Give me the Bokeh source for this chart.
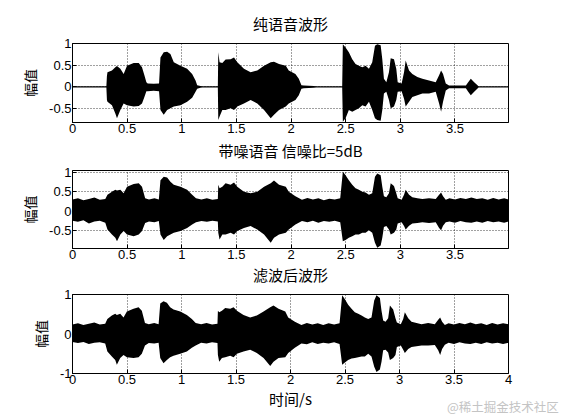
from bokeh.plotting import figure
from bokeh.layouts import column
from bokeh.models import Range1d, FixedTicker, NumeralTickFormatter, Div
from bokeh.embed import file_html
from bokeh.resources import INLINE

CJK = "Noto Sans CJK SC"
NUM = "Liberation Sans"

# ---- panel 1: clean speech envelope (time s, upper, lower) ----
t1 = [0.00, 0.31, 0.315, 0.32, 0.361, 0.392, 0.407, 0.438, 0.468, 0.499, 0.56, 0.606, 0.636, 0.658,
      0.676, 0.688, 0.743, 0.792, 0.805, 0.835, 0.866, 0.896, 0.927, 0.988, 1.049, 1.095, 1.126,
      1.141, 1.171, 1.187, 1.33, 1.334, 1.346, 1.371, 1.401, 1.447, 1.478, 1.508, 1.569, 1.63,
      1.691, 1.753, 1.814, 1.844, 1.89, 1.952, 1.979, 2.04, 2.071, 2.095, 2.117, 2.208, 2.23,
      2.468, 2.474, 2.499, 2.529, 2.56, 2.59, 2.621, 2.652, 2.682, 2.713, 2.743, 2.768, 2.789,
      2.82, 2.835, 2.85, 2.872, 2.896, 2.912, 2.942, 2.963, 2.976, 3.012, 3.034, 3.049, 3.08,
      3.11, 3.156, 3.202, 3.263, 3.324, 3.355, 3.373, 3.391, 3.416, 3.446, 3.60, 3.621, 3.645,
      3.676, 3.716, 3.99]
up1 = [0.015, 0.015, 0.25, 0.34, 0.38, 0.45, 0.48, 0.42, 0.30, 0.49, 0.55, 0.55, 0.45, 0.27,
       0.11, 0.08, 0.07, 0.08, 0.68, 0.80, 0.81, 0.76, 0.57, 0.49, 0.42, 0.30, 0.15,
       0.04, 0.02, 0.015, 0.015, 0.80, 0.57, 0.55, 0.63, 0.64, 0.68, 0.57, 0.42, 0.34,
       0.38, 0.49, 0.57, 0.58, 0.53, 0.49, 0.38, 0.30, 0.19, 0.04, 0.03, 0.02, 0.015,
       0.015, 0.98, 0.91, 0.80, 0.64, 0.53, 0.49, 0.45, 0.49, 0.42, 0.57, 0.95, 0.98,
       0.96, 0.64, 0.19, 0.11, 0.34, 0.66, 0.64, 0.42, 0.11, 0.08, 0.34, 0.61, 0.38,
       0.30, 0.23, 0.19, 0.15, 0.11, 0.27, 0.38, 0.30, 0.08, 0.03, 0.03, 0.11, 0.19,
       0.11, 0.015, 0.015]
lo1 = [-0.015, -0.015, -0.30, -0.34, -0.42, -0.61, -0.72, -0.53, -0.38, -0.42, -0.45, -0.44, -0.38, -0.23,
       -0.10, -0.10, -0.09, -0.10, -0.53, -0.64, -0.53, -0.49, -0.45, -0.42, -0.34, -0.25, -0.11,
       -0.04, -0.02, -0.015, -0.015, -0.76, -0.68, -0.53, -0.53, -0.49, -0.53, -0.45, -0.38, -0.30,
       -0.38, -0.53, -0.72, -0.64, -0.53, -0.45, -0.38, -0.30, -0.19, -0.04, -0.03, -0.02, -0.015,
       -0.015, -0.80, -0.72, -0.53, -0.57, -0.53, -0.49, -0.42, -0.45, -0.34, -0.53, -0.72, -0.76,
       -0.78, -0.53, -0.15, -0.11, -0.30, -0.49, -0.45, -0.30, -0.11, -0.10, -0.27, -0.45, -0.34,
       -0.23, -0.19, -0.15, -0.15, -0.11, -0.38, -0.57, -0.34, -0.08, -0.03, -0.03, -0.11, -0.19,
       -0.11, -0.015, -0.015]

# ---- panel 2: noisy speech (SNR 5 dB) envelope ----
t2 = [0.0, 0.05, 0.10, 0.15, 0.20, 0.25, 0.30, 0.32, 0.361, 0.392, 0.407, 0.438, 0.468, 0.499,
      0.56, 0.606, 0.636, 0.665, 0.70, 0.75, 0.79, 0.805, 0.835, 0.866, 0.896, 0.927, 0.988,
      1.049, 1.095, 1.13, 1.18, 1.23, 1.28, 1.33, 1.334, 1.346, 1.371, 1.401, 1.447, 1.478,
      1.508, 1.569, 1.63, 1.691, 1.753, 1.814, 1.844, 1.89, 1.952, 1.979, 2.04, 2.10, 2.15,
      2.20, 2.25, 2.30, 2.35, 2.40, 2.45, 2.474, 2.499, 2.529, 2.56, 2.59, 2.621, 2.652,
      2.682, 2.713, 2.743, 2.768, 2.789, 2.82, 2.835, 2.85, 2.872, 2.896, 2.912, 2.942,
      2.963, 2.976, 3.012, 3.034, 3.049, 3.08, 3.11, 3.156, 3.202, 3.263, 3.324, 3.355,
      3.373, 3.391, 3.416, 3.45, 3.50, 3.55, 3.60, 3.65, 3.70, 3.75, 3.80, 3.85, 3.90,
      3.95, 3.99]
up2 = [0.30, 0.33, 0.28, 0.31, 0.35, 0.29, 0.31, 0.42, 0.50, 0.55, 0.53, 0.55, 0.46, 0.63,
       0.70, 0.72, 0.63, 0.33, 0.30, 0.33, 0.30, 0.80, 0.89, 0.87, 0.76, 0.68, 0.63,
       0.55, 0.42, 0.33, 0.30, 0.33, 0.29, 0.31, 0.68, 0.59, 0.63, 0.72, 0.68, 0.74,
       0.63, 0.50, 0.46, 0.50, 0.63, 0.72, 0.79, 0.68, 0.63, 0.50, 0.38, 0.29, 0.34,
       0.30, 0.33, 0.28, 0.32, 0.30, 0.33, 1.02, 0.93, 0.80, 0.68, 0.59, 0.55, 0.50,
       0.48, 0.42, 0.46, 0.89, 0.97, 0.93, 0.63, 0.38, 0.36, 0.46, 0.72, 0.65,
       0.46, 0.33, 0.29, 0.42, 0.55, 0.42, 0.36, 0.33, 0.31, 0.33, 0.31, 0.42,
       0.48, 0.38, 0.29, 0.33, 0.30, 0.34, 0.31, 0.35, 0.31, 0.33, 0.29, 0.34, 0.30,
       0.33, 0.30]
lo2 = [-0.25, -0.28, -0.24, -0.32, -0.27, -0.25, -0.30, -0.48, -0.61, -0.69, -0.78, -0.61, -0.52, -0.61,
       -0.65, -0.61, -0.52, -0.31, -0.27, -0.29, -0.26, -0.61, -0.75, -0.65, -0.61, -0.56, -0.52,
       -0.44, -0.35, -0.29, -0.26, -0.28, -0.25, -0.27, -0.56, -0.74, -0.61, -0.61, -0.56, -0.61,
       -0.52, -0.44, -0.39, -0.48, -0.61, -0.82, -0.69, -0.61, -0.56, -0.48, -0.35, -0.26, -0.29,
       -0.25, -0.30, -0.26, -0.28, -0.25, -0.29, -0.78, -0.75, -0.69, -0.65, -0.61, -0.61, -0.56,
       -0.56, -0.50, -0.56, -0.82, -0.95, -0.89, -0.69, -0.41, -0.39, -0.48, -0.61, -0.56,
       -0.48, -0.32, -0.29, -0.39, -0.48, -0.38, -0.32, -0.31, -0.29, -0.31, -0.29, -0.44,
       -0.50, -0.38, -0.29, -0.27, -0.30, -0.26, -0.29, -0.30, -0.27, -0.30, -0.26, -0.29, -0.27,
       -0.30, -0.27]

# ---- panel 3: filtered waveform envelope ----
t3 = [0.0, 0.05, 0.10, 0.15, 0.20, 0.25, 0.30, 0.32, 0.361, 0.392, 0.407, 0.438, 0.468, 0.499,
      0.56, 0.606, 0.636, 0.665, 0.70, 0.75, 0.79, 0.805, 0.835, 0.866, 0.896, 0.927, 0.988,
      1.049, 1.095, 1.13, 1.18, 1.23, 1.28, 1.33, 1.334, 1.346, 1.371, 1.401, 1.447, 1.478,
      1.508, 1.569, 1.63, 1.691, 1.753, 1.814, 1.844, 1.89, 1.952, 1.979, 2.04, 2.10, 2.15,
      2.20, 2.25, 2.30, 2.35, 2.40, 2.45, 2.474, 2.499, 2.529, 2.56, 2.59, 2.621, 2.652,
      2.682, 2.713, 2.743, 2.768, 2.789, 2.82, 2.835, 2.85, 2.872, 2.896, 2.912, 2.942,
      2.963, 2.976, 3.012, 3.034, 3.049, 3.08, 3.11, 3.156, 3.202, 3.263, 3.324, 3.355,
      3.373, 3.391, 3.416, 3.45, 3.50, 3.55, 3.60, 3.65, 3.70, 3.75, 3.80, 3.85, 3.90,
      3.95, 4.00]
up3 = [0.24, 0.27, 0.23, 0.26, 0.29, 0.24, 0.26, 0.38, 0.47, 0.51, 0.48, 0.51, 0.42, 0.57,
       0.64, 0.68, 0.59, 0.28, 0.25, 0.28, 0.25, 0.77, 0.83, 0.79, 0.68, 0.62, 0.57,
       0.48, 0.38, 0.28, 0.25, 0.28, 0.24, 0.26, 0.59, 0.55, 0.59, 0.66, 0.64, 0.68,
       0.59, 0.48, 0.42, 0.47, 0.57, 0.68, 0.72, 0.64, 0.57, 0.42, 0.31, 0.23, 0.28,
       0.24, 0.27, 0.23, 0.27, 0.24, 0.27, 0.98, 0.88, 0.74, 0.64, 0.55, 0.51, 0.47,
       0.42, 0.38, 0.42, 0.85, 0.98, 0.91, 0.59, 0.34, 0.31, 0.40, 0.72, 0.62,
       0.40, 0.29, 0.25, 0.38, 0.55, 0.40, 0.31, 0.28, 0.25, 0.28, 0.25, 0.36,
       0.42, 0.31, 0.23, 0.27, 0.24, 0.28, 0.25, 0.29, 0.25, 0.27, 0.23, 0.28, 0.24,
       0.27, 0.25]
lo3 = [-0.20, -0.23, -0.20, -0.25, -0.22, -0.21, -0.24, -0.44, -0.57, -0.66, -0.78, -0.61, -0.53, -0.59,
       -0.61, -0.59, -0.50, -0.29, -0.23, -0.24, -0.22, -0.61, -0.74, -0.66, -0.59, -0.55, -0.50,
       -0.44, -0.35, -0.29, -0.22, -0.24, -0.21, -0.23, -0.53, -0.70, -0.61, -0.59, -0.55, -0.59,
       -0.50, -0.44, -0.40, -0.48, -0.61, -0.81, -0.70, -0.61, -0.59, -0.48, -0.35, -0.24, -0.26,
       -0.21, -0.25, -0.22, -0.24, -0.21, -0.25, -0.78, -0.72, -0.66, -0.62, -0.61, -0.59, -0.57,
       -0.57, -0.50, -0.57, -0.83, -0.96, -0.90, -0.70, -0.41, -0.40, -0.47, -0.66, -0.61,
       -0.53, -0.33, -0.29, -0.40, -0.48, -0.38, -0.33, -0.31, -0.29, -0.29, -0.28, -0.41,
       -0.53, -0.38, -0.27, -0.22, -0.25, -0.21, -0.24, -0.25, -0.22, -0.25, -0.21, -0.24, -0.22,
       -0.25, -0.22]

titles = ["纯语音波形", "带噪语音 信噪比=5dB", "滤波后波形"]
ylabel = "幅值"
xlabel = "时间/s"
watermark = "@稀土掘金技术社区"
xticks12 = [0, 0.5, 1, 1.5, 2, 2.5, 3, 3.5]
xticks3 = [0, 0.5, 1, 1.5, 2, 2.5, 3, 3.5, 4]
yticks12 = [-0.5, 0, 0.5, 1]
yticks3 = [-1, 0, 1]


def panel(t, up, lo, title, xmax, ylim, xt, yt, height, btop, bbot, tstand, mtop, xl=None):
    p = figure(width=553, height=height, output_backend="svg", toolbar_location=None,
               x_range=Range1d(0, xmax), y_range=Range1d(*ylim),
               min_border_left=72, min_border_right=45,
               min_border_top=btop, min_border_bottom=bbot,
               margin=(mtop, 0, 0, 0))
    p.background_fill_color = "white"
    p.border_fill_color = None
    p.outline_line_color = "black"
    p.outline_line_alpha = 1.0
    p.outline_line_width = 1
    p.title.text = title
    p.title.align = "center"
    p.title.vertical_align = "bottom"
    p.title.text_font = CJK
    p.title.text_font_size = "15px"
    p.title.text_line_height = 1.0
    p.title.text_font_style = "normal"
    p.title.text_color = "black"
    p.title.standoff = tstand
    p.varea(x=t, y1=lo, y2=up, fill_color="black", fill_alpha=1.0)
    for ax in (p.xaxis[0], p.yaxis[0]):
        ax.major_tick_in = 4
        ax.major_tick_out = 0
        ax.minor_tick_line_color = None
        ax.axis_line_color = "black"
        ax.major_tick_line_color = "black"
        ax.major_label_text_font = NUM
        ax.major_label_text_font_size = "13px"
        ax.major_label_text_color = "black"
        ax.major_label_standoff = 1
        ax.formatter = NumeralTickFormatter(format="0.[0]")
    p.xaxis[0].ticker = FixedTicker(ticks=xt)
    p.yaxis[0].ticker = FixedTicker(ticks=yt)
    p.yaxis[0].axis_label = ylabel
    p.yaxis[0].axis_label_text_font = CJK
    p.yaxis[0].axis_label_text_font_size = "14px"
    p.yaxis[0].axis_label_text_font_style = "normal"
    p.yaxis[0].axis_label_text_color = "black"
    p.yaxis[0].axis_label_standoff = 6
    if xl:
        p.xaxis[0].axis_label = xl
        p.xaxis[0].axis_label_text_font = CJK
        p.xaxis[0].axis_label_text_font_size = "15px"
        p.xaxis[0].axis_label_text_font_style = "normal"
        p.xaxis[0].axis_label_text_color = "black"
        p.xaxis[0].axis_label_standoff = 1
    p.xgrid[0].ticker = FixedTicker(ticks=xt)
    p.ygrid[0].ticker = FixedTicker(ticks=yt)
    for g in (p.xgrid[0], p.ygrid[0]):
        g.grid_line_color = "black"
        g.grid_line_alpha = 0.75
        g.grid_line_dash = "1 2"
        g.grid_line_width = 1
    return p


# figure 1: frame 42-122; figure 2: frame 169-248; figure 3: frame 295-374 (page px)
p1 = panel(t1, up1, lo1, titles[0], 3.99, (-0.82, 1.0), xticks12, yticks12, 142, 42, 20, 20, 0)
p2 = panel(t2, up2, lo2, titles[1], 3.99, (-0.97, 1.05), xticks12, yticks12, 142, 42, 21, 20, -15)
p3 = panel(t3, up3, lo3, titles[2], 4.0, (-1.0, 1.0), xticks3, yticks3, 165, 42, 44, 19, -17, xlabel)

wm = Div(text=watermark, width=112, height=16, margin=(-18, 0, 0, 447),
         styles={"font-family": CJK, "font-size": "12.5px", "color": "#c4c4c4",
                 "white-space": "nowrap", "line-height": "16px"})

layout = column(p1, p2, p3, wm, spacing=0)
open("out.html", "w").write(file_html(layout, INLINE))
